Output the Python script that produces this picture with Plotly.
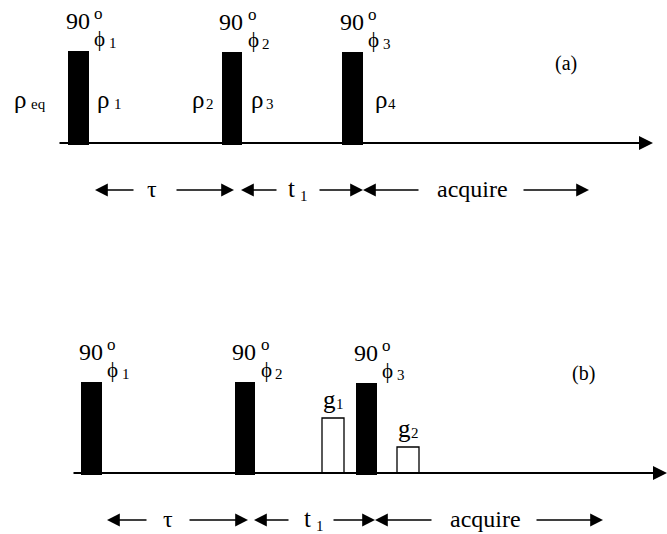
import plotly.graph_objects as go

W, H = 667, 534
FONT = "Liberation Serif"

# ---- sequence layout (horizontal = time axis, vertical = screen position) ----
# panel (a): three 90-degree RF pulses on a single time line
a_base = 143
a_line = [58, 653]
a_pulse_x0 = [68, 222, 342]
a_pulse_x1 = [89, 242, 363]
a_pulse_top = [51, 52, 52]
a_phase = ["1", "2", "3"]

# panel (b): same RF pulses plus two gradient pulses g1, g2
b_base = 473
b_line = [72, 667]
b_pulse_x0 = [81, 235, 356]
b_pulse_x1 = [102, 255, 377]
b_pulse_top = [382, 382, 383]
b_grad_x0 = [322, 397]
b_grad_x1 = [344, 419]
b_grad_top = [418, 447]
b_grad_names = ["1", "2"]

# density-matrix labels in panel (a)
rho_subs = ["eq", "1", "2", "3", "4"]
rho_x = [20, 103, 198, 257, 381]
rho_sub_x = [38, 118, 210, 270, 392]

# delay labels under each panel: (left tail, left tip, label, right tail, right tip)
a_delays = [
    dict(l=(135, 95), lab=("τ", None, 152), r=(175, 234)),
    dict(l=(278, 241), lab=("t", "1", 291), r=(318, 363)),
    dict(l=(420, 363), lab=("acquire", None, 472), r=(522, 589)),
]
b_delays = [
    dict(l=(148, 107), lab=("τ", None, 168), r=(188, 248)),
    dict(l=(290, 254), lab=("t", "1", 307), r=(332, 375)),
    dict(l=(433, 375), lab=("acquire", None, 485), r=(535, 603)),
]

fig = go.Figure()
shapes = []
ann = []


def text(x, y, s, size, **kw):
    ann.append(dict(x=x, y=y, xref="x", yref="y", text=s, showarrow=False,
                    xanchor=kw.get("xanchor", "center"), yanchor="middle",
                    font=dict(family=FONT, size=size, color="black")))


def arrow(tail, tip, y, width=1.6, size=1.6, head=2):
    ann.append(dict(x=tip, y=y, ax=tail, ay=y, xref="x", yref="y",
                    axref="x", ayref="y", text="", showarrow=True,
                    arrowhead=head, arrowsize=size, arrowwidth=width,
                    arrowcolor="black", standoff=0, startstandoff=0))


def pulses(x0s, x1s, tops, base, filled=True):
    for x0, x1, t in zip(x0s, x1s, tops):
        shapes.append(dict(type="rect", xref="x", yref="y", x0=x0, x1=x1,
                           y0=base, y1=t,
                           fillcolor="black" if filled else "white",
                           line=dict(color="black", width=0 if filled else 1.3)))


def pulse_labels(x0s, x1s, tops, phases):
    for x0, x1, t, ph in zip(x0s, x1s, tops, phases):
        cx = (x0 + x1) / 2
        text(cx - 1, t - 30, "90", 24)
        text(cx + 20, t - 38, "o", 17)
        text(cx + 21, t - 12, "ϕ", 21)
        text(cx + 34, t - 8, ph, 15)


def delays(items, y):
    for d in items:
        arrow(d["l"][0], d["l"][1], y)
        s, sub, lx = d["lab"]
        if sub is None:
            text(lx, y - 1, s, 24)
        else:
            text(lx, y - 2, s, 25)
            text(lx + 13, y + 6, sub, 15)
        arrow(d["r"][0], d["r"][1], y)


# ---------------- panel (a) ----------------
arrow(a_line[0], a_line[1], a_base, width=2.0, size=1.4)
pulses(a_pulse_x0, a_pulse_x1, a_pulse_top, a_base + 2)
pulse_labels(a_pulse_x0, a_pulse_x1, a_pulse_top, a_phase)
for s, x, sx in zip(rho_subs, rho_x, rho_sub_x):
    text(x, 99, "ρ", 25)
    text(sx, 104, s, 15)
text(566, 63, "(a)", 20)
delays(a_delays, 190)

# ---------------- panel (b) ----------------
arrow(b_line[0], b_line[1], b_base, width=2.0, size=1.4)
pulses(b_grad_x0, b_grad_x1, b_grad_top, b_base, filled=False)
pulses(b_pulse_x0, b_pulse_x1, b_pulse_top, b_base + 2)
pulse_labels(b_pulse_x0, b_pulse_x1, b_pulse_top, a_phase)
for x0, x1, t, g in zip(b_grad_x0, b_grad_x1, b_grad_top, b_grad_names):
    cx = (x0 + x1) / 2
    text(cx - 4, t - 19, "g", 25)
    text(cx + 7, t - 14, g, 15)
text(583, 373, "(b)", 20)
delays(b_delays, 520)

fig.update_layout(
    width=W, height=H,
    margin=dict(l=0, r=0, t=0, b=0),
    paper_bgcolor="white", plot_bgcolor="white",
    xaxis=dict(range=[0, W], visible=False, fixedrange=True),
    yaxis=dict(range=[H, 0], visible=False, fixedrange=True),
    shapes=shapes, annotations=ann, showlegend=False,
)
fig.write_html("out.html")
